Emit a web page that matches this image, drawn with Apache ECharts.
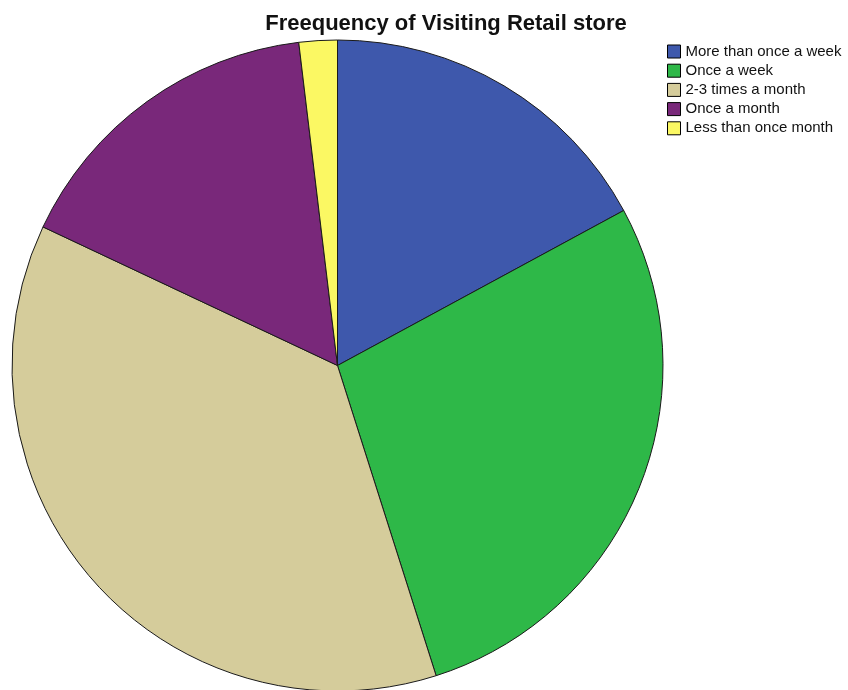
<!DOCTYPE html>
<html>
<head>
<meta charset="utf-8">
<style>
  html, body { margin: 0; padding: 0; background: #fff; }
  #chart { width: 848px; height: 690px; }
</style>
<script src="https://cdn.jsdelivr.net/npm/echarts@6/dist/echarts.min.js"></script>
</head>
<body>
<div id="chart"></div>
<script>
// Visit frequency responses (percent of respondents)
const categories = ['More than once a week', 'Once a week', '2-3 times a month', 'Once a month', 'Less than once month'];
const percents = [17.1, 28.0, 36.9, 16.1, 1.9];
const colors = ['#3e58ac', '#2eb848', '#d5cc9b', '#79287a', '#fbf863'];

const chart = echarts.init(document.getElementById('chart'), null, { renderer: 'canvas' });

chart.setOption({
  animation: false,
  backgroundColor: '#fff',
  title: {
    text: 'Freequency of Visiting Retail store',
    left: 441,
    textAlign: 'center',
    top: 8,
    textStyle: { fontFamily: 'Liberation Sans, Arial, sans-serif', fontSize: 22, fontWeight: 'bold', color: '#111' }
  },
  legend: {
    orient: 'vertical',
    left: 667,
    top: 44,
    itemWidth: 13,
    itemHeight: 13,
    itemGap: 4.2,
    itemTextGap: 6,
    icon: 'rect',
    padding: 0,
    itemStyle: { borderColor: '#000', borderWidth: 1 },
    textStyle: { fontFamily: 'Liberation Sans, Arial, sans-serif', fontSize: 15, color: '#111' },
    data: categories
  },
  series: [{
    type: 'pie',
    center: [337.5, 365.5],
    radius: 325.5,
    startAngle: 90,
    clockwise: true,
    label: { show: false },
    labelLine: { show: false },
    emphasis: { disabled: true },
    itemStyle: { borderColor: '#1a1a1a', borderWidth: 1 },
    data: categories.map((name, i) => ({
      name: name,
      value: percents[i],
      itemStyle: { color: colors[i] }
    }))
  }]
});
</script>
</body>
</html>
